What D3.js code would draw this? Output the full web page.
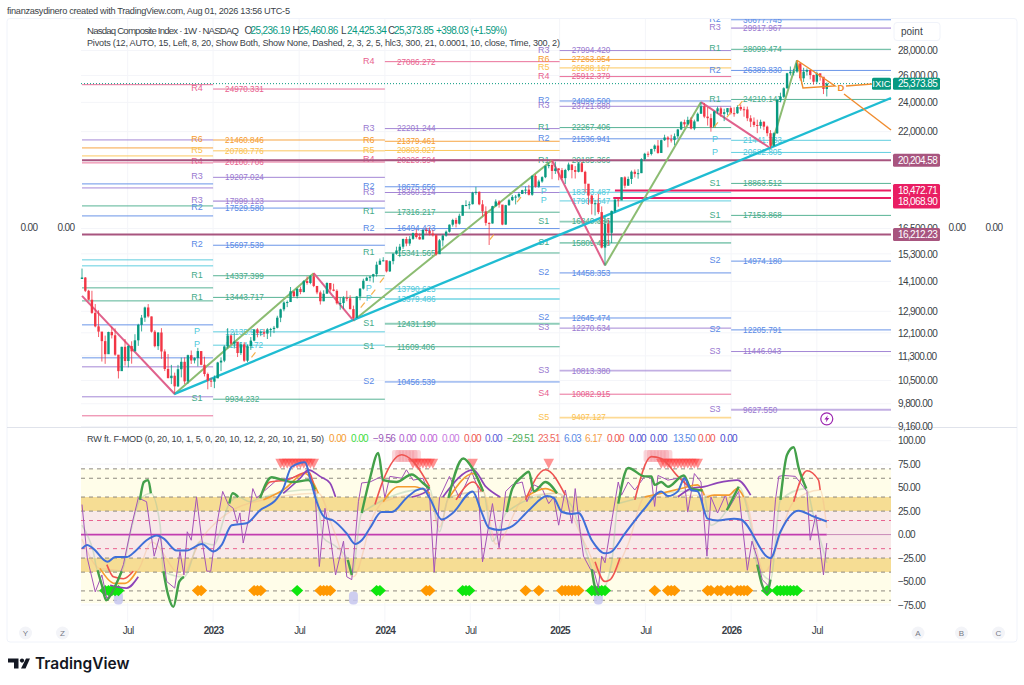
<!DOCTYPE html>
<html>
<head>
<meta charset="utf-8">
<style>
	html, body { margin: 0; padding: 0; background: #fff; }
	svg { display: block; font-family: "Liberation Sans", Arial, sans-serif; }
</style>
<script src="https://cdn.jsdelivr.net/npm/d3@7"></script>
</head>
<body>
<svg id="chart" width="1024" height="685"></svg>
<script>
// weekly candles, first week ends 2022-04-01
const firstOpen = 14200;
const closes = [14261,13711,13351,12839,12335,12145,11805,11355,12131,12013,11340,10798,11607,11128,11635,11452,11834,12391,12657,13047,12705,12141,11630,12112,11448,10868,10576,10652,10321,10859,11102,10475,11323,11146,11226,11461,11005,10705,10497,10466,
	10569,11079,11140,11621,12006,11718,11787,11395,11689,11138,11630,11823,12221,12087,12123,12072,12226,12235,12284,12657,12975,13240,13259,13689,13492,13787,13660,14113,14032,14316,13909,13644,13290,13590,14031,13761,13708,13211,13219,13431,13407,12984,12643,13478,13798,14125,14250,14305,14404,14814,14992,15011,
	14524,14973,15311,15455,15629,15990,15776,15997,16275,16085,15973,16429,16379,16249,16175,15282,15928,16156,16341,16686,16921,16735,17133,17689,17689,17733,18353,18398,17727,17358,16776,16745,17631,17878,17714,16691,17684,17948,18120,18138,18282,18490,18519,18239,19287,18680,18972,19218,19860,19926,19573,19722,
	19622,19162,19630,19954,19627,19523,20026,19524,18847,18196,17754,17784,17323,15588,16724,16286,17383,17978,17929,19211,18737,19114,19530,19407,19447,20273,20601,20586,20896,21108,20650,21450,21622,21497,21456,21700,22141,22631,22484,22780,22204,22680,23204,23724,23005,22900,22273,23365,23578,23195,23307,23593,23241,23235,
	23671,23515,23501,22893,22663,22442,22380,22650,22330,21900,21100,21896,24172,24400,25027,26168,26291,26300,26950,25780,26290,26420,26030,25520,26168,25900,24976,25373.85];
const highs = [14646,14283,13750,13710,13180,12940,12100,12000,12140,12320,12260,11120,11610,11880,11660,11800,12050,12430,12760,13080,13180,12700,12200,12120,12270,11520,11360,11000,10750,11000,11240,11250,11340,11480,11250,11570,11460,11270,10750,10590,
	10660,11100,11250,11660,12270,12040,12110,11760,11760,11770,11690,11950,12230,12270,12170,12240,12270,12280,12350,12730,13000,13290,13320,13865,13620,13820,13880,14150,14310,14370,14450,13800,13720,13730,14060,14030,14000,13770,13450,13490,13710,13530,13120,13500,13820,14210,14300,14310,14420,14950,15090,15150,
	14990,15000,15320,15630,15760,16010,16090,16130,16300,16450,16260,16450,16540,16540,16430,16230,15990,16210,16400,16700,16980,17030,17240,17700,17940,17880,18400,18670,18420,17950,17620,16800,17650,17990,17950,17660,17700,18020,18220,18230,18370,18510,18690,18780,19330,19370,19070,19270,19890,20060,20200,20120,
	19740,19750,19700,20070,19950,19860,20100,20110,19590,18830,18240,17960,18280,17620,17100,16950,17400,18000,18100,19210,19270,19250,19600,19660,19680,20330,20660,20740,20910,21180,21460,21480,21800,21710,21800,21880,22180,22700,22800,23000,22960,22800,23290,24020,23960,23650,23200,23400,23700,23700,23550,23600,23680,23650,
	23800,23850,23700,23700,23100,22950,22800,22800,22700,22400,22100,21950,24200,24700,25100,26200,26700,26500,27200,26950,26600,26550,26400,26050,26300,26100,25800,25460.86];
const lows = [14200,13660,13330,12800,12300,11950,11110,11035,11390,11900,11300,10565,10850,10980,10920,11040,11550,11640,12150,12500,12660,12110,11590,11500,11200,10800,10570,10390,10090,10300,10600,10390,10400,11030,11050,10950,10990,10630,10230,10300,
	10265,10600,10800,11090,11550,11680,11550,11260,11330,11100,11090,11500,11800,11940,11980,11950,11880,11960,12090,12260,12490,12900,13060,13280,13450,13400,13570,13640,13960,13980,13860,13570,13160,13290,13620,13680,13690,13160,12960,13000,13290,12970,12545,12700,13330,13760,14120,14100,14050,14300,14830,14960,
	14480,14500,14830,15260,15150,15530,15650,15670,15950,16010,15960,15960,16250,16160,16110,15220,15310,15640,16100,16300,16590,16550,16690,17150,17630,17470,17720,18240,17680,17110,16640,15710,16740,17610,17550,16660,16680,17640,17900,17720,18050,18320,18270,18200,18180,18630,18620,18900,19160,19730,19100,19400,
	19040,19060,18830,19560,19150,19140,19490,19500,18370,17700,17200,17150,17220,15550,14780,15700,15800,17270,17600,18700,18590,18730,18830,19200,19130,19450,20180,20400,20500,20740,20600,20670,21400,21000,21300,21130,21580,22100,22300,22500,22150,22100,22700,23200,22900,22400,22000,22270,23200,23000,22700,23100,23150,23000,
	23200,23400,23000,22700,22300,22300,21900,22200,22100,21700,20940,21050,21850,24000,24300,25000,26000,26000,26200,25600,25500,26000,25700,25300,25400,25600,24600,24425.34];

const priceTicks = [28000,26000,24000,22000,16500,15300,14100,12900,12100,11300,10500,9800,9160];
const oscTicks = [100,75,50,25,0,-25,-50,-75];
const timeWeeks = [13.8,39.6,65.6,91.5,117.3,144.3,170.2,196.1,222];
const timeLabels = ['Jul','2023','Jul','2024','Jul','2025','Jul','2026','Jul'];

// pivot sets, one per period, each period starts at the week in pivotStarts
const pivotStarts = [0,39.6,91.5,144.3,196.1,244.4];
const pivotNames0 = ['R4','R3','R6','R5','R4','R2','R3','R1','R2','P','P','R1','R1','S2','S2','S3','S3','S4'];
const pivotValues0 = [25296,21465,20961,20469,20050,18836,18612,17643,17127,15030,14765,13830,13305,12390,11233,10937,10005,9456];
const pivotNames1 = ['R4','R6','R5','R4','R3','R3','R2','R2','R1','R1','P','P','S1'];
const pivotValues1 = ['24970.331','21460.846','20780.776','20100.706','19207.024','17899.123','17529.580','15697.539','14337.399','13443.717','12135.915','11664.172','9934.232'];
const pivotNames2 = ['R4','R3','R6','R5','R4','R2','R3','R1','R2','R1','P','P','S1','S1','S2'];
const pivotValues2 = ['27086.272','22201.244','21379.461','20803.027','20226.594','18675.656','18360.514','17316.217','16494.423','15341.565','13790.625','13379.486','12431.190','11609.406','10456.539'];
const pivotNames3 = ['R3','R6','R5','R4','R2','R3','R1','R2','R1','P','P','S1','S1','S2','S2','S3','S3','S4','S5'];
const pivotValues3 = ['27994.420','27263.954','26588.167','25912.379','24099.500','23721.680','22267.406','21536.941','20185.366','18373.487','17907.647','16840.386','15809.498','14458.353','12645.474','12270.634','10813.380','10082.915','9407.127'];
const pivotNames4 = ['R2','R3','R1','R2','R1','P','P','S1','S1','S2','S2','S3','S3'];
const pivotValues4 = ['30677.745','29917.967','28099.474','26389.830','24210.143','21441.733','20682.805','18863.512','17153.868','14974.180','12205.791','11446.043','9627.550'];
const pivotNamesAll = [pivotNames0,pivotNames1,pivotNames2,pivotNames3,pivotNames4];
const pivotValuesAll = [pivotValues0,pivotValues1,pivotValues2,pivotValues3,pivotValues4];
const pivotColors = { R1:'#45ab8a', S1:'#45ab8a', P:'#4fc9dc', R2:'#5a8ae6', S2:'#5a8ae6', R3:'#9a7ad0', S3:'#9a7ad0', R4:'#e8628f', S4:'#e8628f', R5:'#fbc14e', S5:'#fbc14e', R6:'#f59b2f' };

const levelPrices = [20204.58,18472.71,18068.90,16212.23];
const levelFrom = [0,161,160.5,0];
const levelColors = ['#a8557f','#e91e63','#e91e63','#a8557f'];

// zigzag pivots as [week, price]
const zigzag = [[0,13505],[28,10088],[70,14446],[82,12543],[142,20204],[158,14784],[187,24020],[208,20940],[216,27200]];
const trendLine = [[27.8,10088],[244.4,24315]];
const triangleTop = [[216,27200],[227.5,25199],[217.8,25050],[216,27200]];
const patternLeg1 = [[230.8,25199],[238.7,25349]];
const patternLeg2 = [[230.2,24607],[244.4,22112]];
const orangeTicks = [[51.8,11335],[84.8,13137],[88,13653],[90.6,14150],[123.8,16075],[132,17970],[191.5,22440],[195.4,23120],[198.9,23910]];

// oscillator lines as [week, value]
const blueLine = [[0,-15],[1.6,-11],[3.4,-15],[7.7,-29],[10,-24],[13.5,-24],[16,-18],[19.5,-6],[22.6,-1],[24.6,-4],[28.6,-17],[31.6,-17],[36.2,-10],[39.7,-18],[42.2,-11],[45.2,10],[49.7,12],[53.8,26],[58.8,38],[60.8,49],[63.3,72],[67.4,77],[68.9,60],[70.9,35],[73.4,18],[75.9,15],[80,1],[82.5,-10],[84.5,-6],[87,7],[90.5,24],[93.6,24],[98,39],[101,47],[103,49],[105,39],[108.7,16],[112,23],[118,46],[120.7,24],[123,7],[126,5],[130,9],[135,26],[140.5,41],[142.5,39],[145,24],[148,22],[150,23],[154,-6],[158,-20],[159.6,-19],[164,1],[170,28],[175,46],[177,41],[180,46],[182,60],[184,47.5],[186,46],[189,17],[192,15],[197,17],[199,16],[208,-25],[211,3],[216.5,25.5],[220.5,20],[225,14]];
const thinLine = [[0,32],[1.6,-25],[4,-61],[6,-43],[7.5,-68],[10,-57],[12.5,-32],[15,10],[17,39],[19.5,35],[21.8,-23],[23.6,0],[25.6,-50],[28,-57],[29.6,-18],[30.8,-43],[31.8,3],[33,-6],[34.6,40],[36,0],[37.7,-39],[38.9,-39],[40.7,10],[42.5,46],[44.2,32],[45.7,28],[46.9,12],[47.7,23],[48.7,-9],[50.2,14],[51.6,49],[52.8,39],[54.3,44],[58.8,58],[62.8,60],[65.9,63],[68.4,67],[70.4,46],[71.7,-34],[73.4,28],[74.9,0],[76.6,-43],[79,-7],[80,-45],[81.5,-48],[83.5,35],[84.5,55],[87,56],[90.5,62],[91.5,39],[93,62],[96.6,60],[98,69],[100,58],[103,60],[105,42],[106.4,-40],[108,39],[111,62],[114,39],[117.7,67],[119.7,49],[121,-29],[124,33],[126,-14],[128,46],[130,53],[133,56],[134.4,35],[136.5,53],[139,49],[141,33],[142.5,40],[144,10],[146,47.5],[148,12],[149,49],[150.5,3],[151.5,-23],[153.6,-37],[154.6,-38],[156,-57],[157,-23],[158,-30],[160,14],[162,56],[163,42],[165,56],[167,47.5],[170,62],[172,60],[173,30],[174,63],[177,58],[180,60],[181.8,63],[183,24],[185,65],[187,56],[188.8,-23],[190,40],[192,23],[194.4,42],[195.4,28],[198.4,46],[201,-38],[202.4,-7],[204,-25],[205.5,-48],[207.5,-55],[209.5,37],[210.5,62],[212,63],[215.5,62],[219,46],[220,-6],[221.7,21],[224,-43],[225,-9]];
const greenRuns = [
	[[4.7,-38],[6,-54],[7.3,-70],[10,-55],[12,-39]],
	[[17.5,37],[18.7,56],[20,58],[20.8,44]],
	[[24.6,-39],[26,-64],[27.6,-77],[29.4,-50],[30.8,-45]],
	[[44.5,33],[45.5,44],[47.2,40]],
	[[53.8,39],[57.3,61],[60.8,58],[63.8,56],[68.4,58],[70.4,48]],
	[[80.3,-27],[81.5,-43]],
	[[84.5,23],[87,60],[89.5,87],[91,58],[95,56],[99.6,64],[103,55],[105,49]],
	[[110.7,39],[115.2,81],[118.2,69],[121.2,46]],
	[[128.3,24],[130,49],[133,62],[135,67],[136.5,46],[140,56],[143.5,44]],
	[[154,-37],[155,-57],[156.2,-64]],
	[[162,33],[165,71],[170,62],[172,62],[173,53],[175,56],[177,51],[181.8,63],[184,49],[187.5,47]],
	[[194.8,26],[198.4,51]],
	[[204,-32],[205.5,-54],[207,-62],[208,-48]],
	[[211,37],[213,85],[215,93],[216.5,71],[218.8,49]]
];
const redRuns = [
	[[7.5,-32],[9.5,-45],[12.5,-47],[15.5,-39]],
	[[53.8,39],[56.8,56],[61.8,58],[68.4,67],[70.4,46]],
	[[88.5,32],[91,58],[96.6,85],[100,78],[105,51]],
	[[113,37],[118.2,56],[120.7,46]],
	[[134,37],[140,69],[146,42]],
	[[155,-29],[158,-50],[159.6,-48],[162.5,-25]],
	[[167,37],[172,83],[175,81],[180,62],[184,49]],
	[[215,35],[219,68],[222.5,58],[223,47.5]]
];
const orangeRuns = [
	[[5.4,-36],[10,-52],[13,-52],[16.5,-39]],
	[[54.8,37],[60.8,47.5],[67.4,65],[71.4,44]],
	[[91,35],[95.6,51],[100.6,51],[105,44]],
	[[111,40],[118.2,65],[121.2,46]],
	[[134,40],[140,49],[143.5,44]],
	[[170,40],[175,44],[181,49],[186,53],[188,42]],
	[[188.8,40],[191,42],[195.4,42],[197.9,49],[199.9,40]]
];
const purpleRuns = [
	[[8.5,-54],[13.5,-57],[17,-45]],
	[[60.8,44],[65.9,60],[68.4,69],[71.9,62],[74.9,55],[76.6,40]],
	[[99.6,40],[104,46],[105,49]],
	[[109,40],[118.2,69],[122,51],[126.3,40]],
	[[180,40],[184,49],[188,51],[192,55],[198,58],[202,42]]
];
const fadedGreen = [[0,10],[3.4,-18],[4.7,-38],[12,-39],[14.5,0],[17.5,37],[20.8,44],[23.6,10],[24.6,-39],[30.8,-45],[35.6,-8],[39.7,-11],[44.5,33],[47.2,40],[50.7,35],[53.8,39],[70.4,48],[73,-4],[76,-11],[80.3,-27],[81.5,-43],[84.5,23],[105,49],[108,3],[110.7,39],[121.2,46],[124,-7],[128.3,24],[143.5,44],[148,30],[152,-15],[154,-37],[156.2,-64],[160,-30],[162,33],[187.5,47],[190,10],[194.8,26],[198.4,51],[202,10],[204,-32],[208,-48],[211,37],[218.8,49],[221,20],[225,-30]];
const fadedOrange = [[0,-5],[5.4,-36],[16.5,-39],[21,-8],[30,-43],[36,-5],[45,25],[54.8,37],[71.4,44],[76,5],[82,-45],[88,20],[91,35],[105,44],[108,8],[111,40],[121.2,46],[125,-10],[134,40],[143.5,44],[152,-10],[158,-50],[165,-10],[170,40],[188,42],[199.9,40],[206,-40],[215,35],[223,47.5],[225,7]];

// signal markers, weeks only
const triangleWeeks = [60,61,62,63,64,65,66,67,68,69,70,100,101,102,103,104,105,106,118,141,175,176,177,178,179,180,181,182,183,184,185,186];
const squareWeeks = [95,96,97,98,99,100,101,171,172,173,174,175,176,177];
const orangeDiamonds = [35,36,52,53,54,72,73,74,75,104,105,134,138,145,146,147,148,149,150,173,177,178,179,189,190,192,193,195,196,198,199,200,201];
const greenDiamonds = [7,8,9,10,11,65,89,90,115,116,117,154,155,156,157,158,207,210,211,212,213,214,215,216];
const lavenderWeeks = [11,82,156];

const legendOhlcKeys = ['O','H','L','C'];
const legendOhlcValues = ['25,236.19','25,460.86','24,425.34','25,373.85'];
const oscLegendText = ['0.00','0.00','\u22129.56','0.00','0.00','0.00','0.00','0.00','\u221229.51','23.51','6.03','6.17','0.00','0.00','0.00','13.50','0.00','0.00'];
const oscLegendColors = ['#f59b2f','#3ddc3d','#9c5ab8','#b060d0','#c060d8','#c878e0','#ef5350','#5a5ad8','#4fae5a','#ef6a60','#5a8ae6','#f5a04a','#ef5350','#4a4ad0','#4a4ad0','#5a8ae6','#ef5350','#4a4ad0'];

const svg = d3.select('#chart');
const numStyle = sel => sel.attr('font-size', 10).attr('letter-spacing', -0.6);

// frame
svg.append('rect').attr('x', 7).attr('y', 18.5).attr('width', 1010).attr('height', 623.5)
	.attr('rx', 3).attr('fill', '#fff').attr('stroke', '#f0f3fa');

const x = d3.scaleLinear().domain([0, 244.4]).range([82, 891]);
const y = d3.scaleLog().domain([9160, 28000]).range([426.5, 50.5]);
const yOsc = d3.scaleLinear().domain([-75, 100]).range([605, 440.7]);

svg.append('defs').append('clipPath').attr('id', 'mainclip')
	.append('rect').attr('x', 7).attr('y', 19).attr('width', 1010).attr('height', 408);

// grid
const grid = svg.append('g').attr('stroke', '#f4f5f9');
grid.selectAll('.vg').data(timeWeeks).join('line').attr('class', 'vg')
	.attr('x1', d => x(d)).attr('x2', d => x(d)).attr('y1', 19).attr('y2', 622);
grid.selectAll('.hg').data(priceTicks).join('line').attr('class', 'hg')
	.attr('x1', 81).attr('x2', 891).attr('y1', d => y(d)).attr('y2', d => y(d));
grid.selectAll('.og').data(oscTicks).join('line').attr('class', 'og')
	.attr('x1', 81).attr('x2', 891).attr('y1', d => yOsc(d)).attr('y2', d => yOsc(d));

// pane divider
svg.append('line').attr('x1', 7).attr('x2', 1017).attr('y1', 427.5).attr('y2', 427.5).attr('stroke', '#e0e3eb');

const main = svg.append('g').attr('clip-path', 'url(#mainclip)');

// pivots
const thickValues = ['29917.967', '17899.123', '13379.486', '12431.190', '16840.386', '15809.498', '10813.380', '9407.127', '9627.550'];
pivotNamesAll.forEach((names, s) => {
	const rows = names.map((n, k) => ({ name: n, value: pivotValuesAll[s][k] }));
	const g = main.append('g').attr('class', 'pivots');
	g.selectAll('line').data(rows).join('line')
		.attr('x1', x(pivotStarts[s])).attr('x2', x(pivotStarts[s + 1]))
		.attr('y1', d => y(+d.value)).attr('y2', d => y(+d.value))
		.attr('stroke', d => pivotColors[d.name])
		.attr('stroke-width', d => (thickValues.includes(d.value) ? 1.8 : 1))
		.attr('stroke-opacity', d => (thickValues.includes(d.value) ? 0.6 : 0.9));
	if (s > 0) {
		const lx = x(pivotStarts[s]);
		g.selectAll('.pn').data(rows).join('text').attr('class', 'pn')
			.attr('x', lx - 16).attr('y', d => y(+d.value) - 1).attr('dy', '0.35em')
			.attr('text-anchor', 'middle').attr('font-size', 9)
			.attr('fill', d => pivotColors[d.name]).text(d => d.name);
		g.selectAll('.pv').data(rows).join('text').attr('class', 'pv')
			.attr('x', lx + 12).attr('y', d => y(+d.value)).attr('dy', '0.35em')
			.attr('font-size', 8.2).attr('fill', d => pivotColors[d.name]).text(d => d.value);
	}
});

// horizontal levels
main.selectAll('.level').data(levelPrices).join('line').attr('class', 'level')
	.attr('x1', (d, i) => x(levelFrom[i])).attr('x2', 891)
	.attr('y1', d => y(d)).attr('y2', d => y(d))
	.attr('stroke', (d, i) => levelColors[i]).attr('stroke-width', 2);

// last price
main.append('line').attr('x1', 81).attr('x2', 872)
	.attr('y1', y(closes[225])).attr('y2', y(closes[225]))
	.attr('stroke', '#089981').attr('stroke-dasharray', '1 2');

const priceLine = d3.line().x(d => x(d[0])).y(d => y(d[1]));

// zigzag, coloured by leg direction
const legs = d3.pairs(zigzag);
main.selectAll('.leg').data(legs).join('path').attr('class', 'leg')
	.attr('d', d => priceLine(d)).attr('fill', 'none').attr('stroke-width', 2)
	.attr('stroke', d => (d[1][1] > d[0][1] ? '#8cbc72' : '#e0618c'));

main.append('path').attr('d', priceLine(trendLine)).attr('fill', 'none')
	.attr('stroke', '#1fbcd2').attr('stroke-width', 2.4);

// candles
const candles = closes.map((c, i) => ({ i, c, o: i ? closes[i - 1] : firstOpen, h: highs[i], l: lows[i] }));
const candleColor = d => (d.c >= d.o ? '#089981' : '#f23645');
main.selectAll('.wick').data(candles).join('line').attr('class', 'wick')
	.attr('x1', d => x(d.i)).attr('x2', d => x(d.i))
	.attr('y1', d => y(d.h)).attr('y2', d => y(d.l))
	.attr('stroke', candleColor).attr('stroke-width', 0.8);
main.selectAll('.body').data(candles).join('rect').attr('class', 'body')
	.attr('x', d => x(d.i) - 1.2).attr('width', 2.4)
	.attr('y', d => y(Math.max(d.o, d.c)))
	.attr('height', d => Math.max(1, y(Math.min(d.o, d.c)) - y(Math.max(d.o, d.c))))
	.attr('fill', candleColor);

// little orange marks beside the candles
main.selectAll('.otick').data(orangeTicks).join('line').attr('class', 'otick')
	.attr('x1', d => x(d[0]) - 2).attr('x2', d => x(d[0]) + 2)
	.attr('y1', d => y(d[1]) + 2.5).attr('y2', d => y(d[1]) - 2.5)
	.attr('stroke', '#f5b04a').attr('stroke-width', 1.2);

// pattern
[triangleTop, patternLeg1, patternLeg2].forEach(p => {
	main.append('path').attr('d', priceLine(p)).attr('fill', 'none')
		.attr('stroke', '#f08c2e').attr('stroke-width', 1.4);
});
main.append('text').attr('x', x(229.3)).attr('y', y(25050)).attr('dy', '0.35em')
	.attr('text-anchor', 'middle').attr('font-size', 9.5).attr('font-weight', 700)
	.attr('fill', '#f08c2e').text('D');

// lightning badge
const badge = main.append('g').attr('transform', `translate(${x(225)},${y(9370)})`);
badge.append('circle').attr('r', 6).attr('fill', '#fff').attr('stroke', '#9c27b0').attr('stroke-width', 1.2);
badge.append('path').attr('d', 'M1,-3.6 L-2.4,0.6 L-0.3,0.6 L-1,3.6 L2.4,-0.8 L0.3,-0.8 Z').attr('fill', '#9c27b0');

// oscillator bands
const bands = [[70, 40, '#fffde9'], [40, 25, '#f6dd94'], [25, -25, '#f8e9e9'], [-25, -40, '#f6dd94'], [-40, -73, '#fffde9']];
svg.selectAll('.band').data(bands).join('rect').attr('class', 'band')
	.attr('x', 81).attr('width', 810)
	.attr('y', d => yOsc(d[0])).attr('height', d => yOsc(d[1]) - yOsc(d[0]))
	.attr('fill', d => d[2]);

const greyLevels = [70, 60, 40, 25, -25, -40, -60, -70];
svg.selectAll('.glev').data(greyLevels).join('line').attr('class', 'glev')
	.attr('x1', 81).attr('x2', 891).attr('y1', d => yOsc(d)).attr('y2', d => yOsc(d))
	.attr('stroke', '#8f8a80').attr('stroke-dasharray', '4 4');
svg.selectAll('.plev').data([15, -15]).join('line').attr('class', 'plev')
	.attr('x1', 81).attr('x2', 891).attr('y1', d => yOsc(d)).attr('y2', d => yOsc(d))
	.attr('stroke', '#e8628f').attr('stroke-dasharray', '4 4');
svg.append('line').attr('x1', 81).attr('x2', x(225)).attr('y1', yOsc(0)).attr('y2', yOsc(0))
	.attr('stroke', '#c23cb0').attr('stroke-width', 1.6);
svg.append('line').attr('x1', x(225)).attr('x2', 891).attr('y1', yOsc(0)).attr('y2', yOsc(0))
	.attr('stroke', '#c98ab8');

const oscLine = d3.line().x(d => x(d[0])).y(d => yOsc(d[1]));
const smooth = d3.line().x(d => x(d[0])).y(d => yOsc(d[1])).curve(d3.curveMonotoneX);

svg.append('path').attr('d', smooth(fadedGreen)).attr('fill', 'none').attr('stroke', '#9cc4a0').attr('stroke-opacity', 0.4).attr('stroke-width', 1.6);
svg.append('path').attr('d', smooth(fadedOrange)).attr('fill', 'none').attr('stroke', '#f5b98a').attr('stroke-opacity', 0.4).attr('stroke-width', 1.4);

// squares and triangles sit behind the lines
svg.selectAll('.sq').data(squareWeeks).join('rect').attr('class', 'sq')
	.attr('x', d => x(d) - 4.5).attr('width', 9).attr('y', yOsc(90)).attr('height', 12).attr('rx', 2)
	.attr('fill', '#f48a96').attr('fill-opacity', 0.35);
const triPath = d3.line().x(d => d[0]).y(d => d[1]);
svg.selectAll('.tri').data(triangleWeeks).join('path').attr('class', 'tri')
	.attr('transform', d => `translate(${x(d)},${yOsc(70)})`)
	.attr('d', triPath([[-5.3, -10], [5.3, -10], [0, 0], [-5.3, -10]]))
	.attr('fill', '#ff3b3b').attr('fill-opacity', 0.55);

svg.selectAll('.lav').data(lavenderWeeks).join('rect').attr('class', 'lav')
	.attr('x', d => x(d) - 4.5).attr('width', 9).attr('y', yOsc(-67.6) - 6.5).attr('height', 13).attr('rx', 4)
	.attr('fill', '#c6c6f0').attr('fill-opacity', 0.85);

const diamond = d => `translate(${x(d)},${yOsc(-59.6)})`;
const diamondPath = 'M0,-5.6 L6,0 L0,5.6 L-6,0 Z';
svg.selectAll('.od').data(orangeDiamonds).join('path').attr('class', 'od')
	.attr('transform', diamond).attr('d', diamondPath).attr('fill', '#ff9800');
svg.selectAll('.gd').data(greenDiamonds).join('path').attr('class', 'gd')
	.attr('transform', diamond).attr('d', diamondPath).attr('fill', '#0ee60e');

svg.append('path').attr('d', oscLine(thinLine)).attr('fill', 'none').attr('stroke', '#a354b8').attr('stroke-width', 1);

const runGroups = [[orangeRuns, '#f59b2f', 1.6], [redRuns, '#ef5350', 1.6], [purpleRuns, '#8e44b8', 1.7], [greenRuns, '#43a04a', 2.4]];
runGroups.forEach(([runs, color, w]) => {
	svg.append('g').selectAll('path').data(runs).join('path')
		.attr('d', smooth).attr('fill', 'none').attr('stroke', color).attr('stroke-width', w);
});
svg.append('path').attr('d', smooth(blueLine)).attr('fill', 'none').attr('stroke', '#3f6fd8').attr('stroke-width', 2);

// axes
const priceAxis = d3.axisRight(y).tickValues(priceTicks).tickFormat(d3.format(',.2f')).tickSize(0).tickPadding(0);
const oscAxis = d3.axisRight(yOsc).tickValues(oscTicks).tickFormat(d3.format(',.2f')).tickSize(0).tickPadding(0);
const timeAxis = d3.axisBottom(x).tickValues(timeWeeks).tickFormat((d, i) => timeLabels[i]).tickSize(0).tickPadding(0);

const priceG = svg.append('g').attr('transform', 'translate(898,0)').call(priceAxis);
const oscG = svg.append('g').attr('transform', 'translate(898,0)').call(oscAxis);
const timeG = svg.append('g').attr('transform', 'translate(0,627)').call(timeAxis);
[priceG, oscG, timeG].forEach(g => {
	g.select('.domain').remove();
	g.attr('font-family', null).attr('font-size', null);
	g.selectAll('text').call(numStyle).attr('fill', '#3b3f48');
});
timeG.selectAll('text').attr('font-weight', d => (timeLabels[timeWeeks.indexOf(d)] === 'Jul' ? 400 : 700));

// level labels
const labelY = d => y(d) + (d === 18068.9 ? 4 : 0);
svg.selectAll('.lbox').data(levelPrices).join('rect').attr('class', 'lbox')
	.attr('x', 893).attr('width', 47).attr('y', d => labelY(d) - 6.5).attr('height', 13).attr('rx', 1.5)
	.attr('fill', (d, i) => levelColors[i]);
svg.selectAll('.ltext').data(levelPrices).join('text').attr('class', 'ltext')
	.attr('x', 898).attr('y', labelY).attr('dy', '0.35em').call(numStyle).attr('fill', '#fff')
	.text(d3.format(',.2f'));

svg.append('rect').attr('x', 872).attr('width', 19).attr('y', y(closes[225]) - 6).attr('height', 12).attr('rx', 1.5).attr('fill', '#089981');
svg.append('text').attr('x', 881.5).attr('y', y(closes[225])).attr('dy', '0.35em').attr('text-anchor', 'middle')
	.attr('font-size', 9.5).attr('fill', '#fff').text('IXIC');
svg.append('rect').attr('x', 893).attr('width', 47).attr('y', y(closes[225]) - 6).attr('height', 12).attr('rx', 1.5).attr('fill', '#089981');
svg.append('text').attr('x', 898).attr('y', y(closes[225])).attr('dy', '0.35em').call(numStyle).attr('fill', '#fff')
	.text(d3.format(',.2f')(closes[225]));

// scale buttons and zero labels
svg.append('rect').attr('x', 894).attr('y', 22.5).attr('width', 46).attr('height', 18).attr('rx', 3).attr('fill', '#fff').attr('stroke', '#f0f3fa');
svg.append('text').attr('x', 901).attr('y', 35).attr('font-size', 10).attr('fill', '#3b3f48').text('point');

svg.selectAll('.zero').data([29, 66, 957, 994]).join('text').attr('class', 'zero')
	.attr('x', d => d).attr('y', 227).attr('dy', '0.35em').attr('text-anchor', 'middle')
	.call(numStyle).attr('fill', '#3b3f48').text('0.00');

const sideKeys = [['Y', 25.5], ['Z', 62.5], ['A', 918], ['B', 961.5], ['C', 998.5]];
const keys = svg.selectAll('.key').data(sideKeys).join('g').attr('class', 'key')
	.attr('transform', d => `translate(${d[1]},633)`);
keys.append('circle').attr('r', 6.5).attr('fill', '#f3f4f8');
keys.append('text').attr('dy', '0.35em').attr('text-anchor', 'middle').attr('font-size', 8).attr('fill', '#787b86').text(d => d[0]);

// header texts, fitted to the widths of the picture
svg.append('text').attr('x', 7).attr('y', 14).attr('font-size', 9.2).attr('fill', '#3b3f48')
	.attr('textLength', 283).attr('lengthAdjust', 'spacing')
	.text('finanzasydinero created with TradingView.com, Aug 01, 2026 13:56 UTC-5');

svg.append('text').attr('x', 87).attr('y', 33.5).attr('font-size', 9.6).attr('fill', '#3b3f48')
	.attr('textLength', 152).attr('lengthAdjust', 'spacing')
	.text('Nasdaq Composite Index \u00b7 1W \u00b7 NASDAQ');
const ohlcX = [244.5, 292.5, 341, 388];
legendOhlcKeys.forEach((k, i) => {
	svg.append('text').attr('x', ohlcX[i]).attr('y', 33.5).attr('font-size', 10).attr('fill', '#3b3f48').text(k);
	svg.append('text').attr('x', ohlcX[i] + 6).attr('y', 33.5).call(numStyle).attr('fill', '#089981').text(legendOhlcValues[i]);
});
svg.append('text').attr('x', 436).attr('y', 33.5).call(numStyle).attr('fill', '#089981').text('+398.03 (+1.59%)');

svg.append('text').attr('x', 87).attr('y', 45.5).attr('font-size', 9.1).attr('fill', '#3b3f48')
	.attr('textLength', 473).attr('lengthAdjust', 'spacing')
	.text('Pivots (12, AUTO, 15, Left, 8, 20, Show Both, Show None, Dashed, 2, 3, 2, 5, hlc3, 300, 21, 0.0001, 10, close, Time, 300, 2)');

svg.append('text').attr('x', 87).attr('y', 441.5).attr('font-size', 9.1).attr('fill', '#3b3f48')
	.attr('textLength', 237).attr('lengthAdjust', 'spacing')
	.text('RW ft. F-MOD (0, 20, 10, 1, 5, 0, 20, 10, 12, 2, 20, 10, 21, 50)');
const oscLegendX = [329, 351, 373, 399, 420, 442, 464, 485, 507, 538, 564, 585, 607, 629, 650, 673, 698, 720];
svg.selectAll('.osclg').data(oscLegendText).join('text').attr('class', 'osclg')
	.attr('x', (d, i) => oscLegendX[i]).attr('y', 441.5).call(numStyle)
	.attr('fill', (d, i) => oscLegendColors[i]).text(d => d);

// logo
const logo = svg.append('g').attr('fill', '#131722');
logo.append('path').attr('d', 'M8,658.5 H18.5 V668.5 H14 V662.5 H8 Z');
logo.append('circle').attr('cx', 22).attr('cy', 660.6).attr('r', 2.1);
logo.append('path').attr('d', 'M26,658.5 H30 L25.5,668.5 H21 Z');
svg.append('text').attr('x', 35).attr('y', 668.6).attr('font-family', 'Inter').attr('font-weight', 600)
	.attr('font-size', 15.5).attr('fill', '#131722').text('TradingView');
</script>
</body>
</html>
